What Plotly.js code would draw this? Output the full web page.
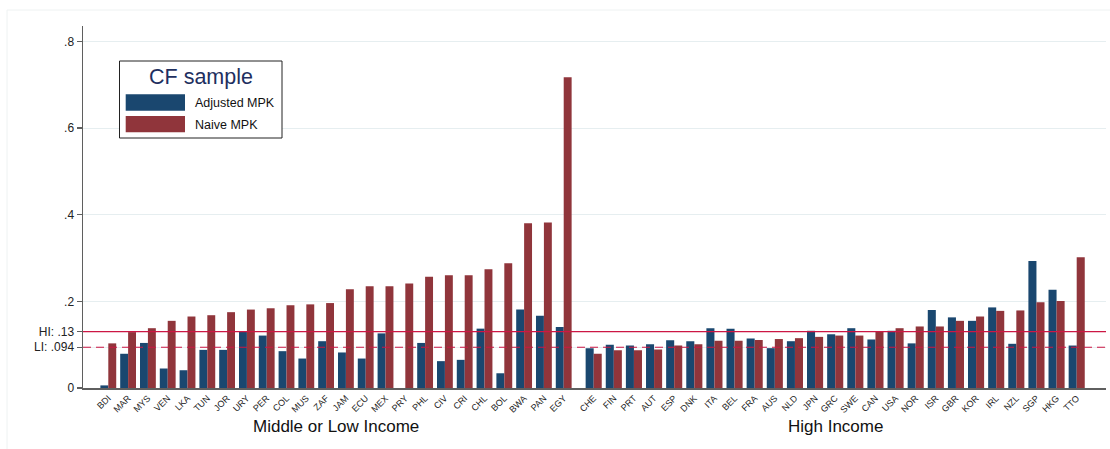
<!DOCTYPE html>
<html>
<head>
<meta charset="utf-8">
<script src="https://cdn.plot.ly/plotly-3.0.1.min.js"></script>
<style>
  html, body { margin: 0; padding: 0; background: #ffffff; }
  #chart { width: 1110px; height: 449px; }
</style>
</head>
<body>
<div id="chart"></div>
<script>
// Country groups
const leftCats = ['BDI','MAR','MYS','VEN','LKA','TUN','JOR','URY','PER','COL','MUS','ZAF',
                  'JAM','ECU','MEX','PRY','PHL','CIV','CRI','CHL','BOL','BWA','PAN','EGY'];
const rightCats = ['CHE','FIN','PRT','AUT','ESP','DNK','ITA','BEL','FRA','AUS','NLD','JPN',
                   'GRC','SWE','CAN','USA','NOR','ISR','GBR','KOR','IRL','NZL','SGP','HKG','TTO'];

// Adjusted MPK
const leftAdjusted = [0.006,0.079,0.104,0.045,0.041,0.088,0.088,0.131,0.121,0.085,0.068,0.108,
                      0.082,0.068,0.126,null,0.104,0.062,0.065,0.137,0.034,0.181,0.167,0.141];
const rightAdjusted = [0.092,0.100,0.098,0.101,0.110,0.108,0.138,0.137,0.114,0.092,0.108,0.132,
                       0.124,0.138,0.112,0.132,0.103,0.180,0.163,0.155,0.186,0.102,0.293,0.227,0.098];

// Naive MPK
const leftNaive = [0.103,0.129,0.138,0.155,0.165,0.168,0.175,0.181,0.184,0.191,0.193,0.196,
                   0.228,0.235,0.235,0.241,0.257,0.260,0.260,0.274,0.288,0.380,0.382,0.717];
const rightNaive = [0.079,0.087,0.087,0.089,0.098,0.101,0.109,0.109,0.111,0.113,0.115,0.118,
                    0.121,0.121,0.131,0.138,0.142,0.142,0.155,0.165,0.178,0.179,0.198,0.201,0.302];

// Group averages drawn as reference lines
const hiValue = 0.13;
const liValue = 0.094;

const groupTitles = ['Middle or Low Income', 'High Income'];
const seriesNames = ['Adjusted MPK', 'Naive MPK'];
const legendTitle = 'CF sample';

const yTickVals = [0, liValue, hiValue, 0.2, 0.4, 0.6, 0.8];
const yTickText = ['0', 'LI: .094', 'HI: .13', '.2', '.4', '.6', '.8'];

// Styling
const NAVY = '#1a476f';
const MAROON = '#90353b';
const REFLINE = '#cc1744';
const AXIS = '#5f5f5f';
const GRID = '#e6eef0';
const FONT = 'Liberation Sans, Arial, sans-serif';

// Page geometry (pixels)
const W = 1110, H = 449;
const M = { l: 83, r: 4, t: 26, b: 61 };
const plotW = W - M.l - M.r;
const plotH = H - M.t - M.b;
const px = x => (x - M.l) / plotW;
const py = y => (H - M.b - y) / plotH;
const split = px(578.7);

const traces = [
  { type: 'bar', name: seriesNames[0], x: leftCats, y: leftAdjusted, xaxis: 'x', yaxis: 'y',
    marker: { color: NAVY, line: { width: 0 } }, showlegend: false },
  { type: 'bar', name: seriesNames[1], x: leftCats, y: leftNaive, xaxis: 'x', yaxis: 'y',
    marker: { color: MAROON, line: { width: 0 } }, showlegend: false },
  { type: 'bar', name: seriesNames[0], x: rightCats, y: rightAdjusted, xaxis: 'x2', yaxis: 'y',
    marker: { color: NAVY, line: { width: 0 } }, showlegend: false },
  { type: 'bar', name: seriesNames[1], x: rightCats, y: rightNaive, xaxis: 'x2', yaxis: 'y',
    marker: { color: MAROON, line: { width: 0 } }, showlegend: false }
];

const xTickFont = { family: FONT, size: 9, color: '#222' };
const xCommon = {
  type: 'category', showgrid: false, zeroline: false,
  showline: true, linecolor: AXIS, linewidth: 1.5,
  ticks: '', tickangle: -45, tickfont: xTickFont, fixedrange: true
};

const shapes = [
  // reference lines
  { type: 'line', xref: 'paper', yref: 'y', x0: 0, x1: 1, y0: hiValue, y1: hiValue,
    line: { color: REFLINE, width: 1.1 } },
  { type: 'line', xref: 'paper', yref: 'y', x0: 0, x1: 1, y0: liValue, y1: liValue,
    line: { color: REFLINE, width: 1.1, dash: '8px,5px' } },
  // outer frame of the graph region
  { type: 'line', xref: 'paper', yref: 'paper', x0: px(7), x1: px(W + 5), y0: py(10), y1: py(10),
    line: { color: '#eef2f2', width: 1 } },
  { type: 'line', xref: 'paper', yref: 'paper', x0: px(7), x1: px(7), y0: py(10), y1: py(H + 5),
    line: { color: '#eef2f2', width: 1 } },
  // legend box and swatches
  { type: 'rect', xref: 'paper', yref: 'paper', x0: px(119.5), x1: px(282), y0: py(61), y1: py(138),
    fillcolor: '#ffffff', line: { color: '#222', width: 1 } },
  { type: 'rect', xref: 'paper', yref: 'paper', x0: px(125.7), x1: px(185), y0: py(94.3), y1: py(110.7),
    fillcolor: NAVY, line: { width: 0 } },
  { type: 'rect', xref: 'paper', yref: 'paper', x0: px(125.7), x1: px(185), y0: py(116), y1: py(132.3),
    fillcolor: MAROON, line: { width: 0 } }
];

const annotations = [
  { xref: 'x', yref: 'paper', x: (leftCats.length - 1) / 2, y: py(426), text: groupTitles[0],
    showarrow: false, xanchor: 'center', yanchor: 'middle',
    font: { family: FONT, size: 17, color: '#111' } },
  { xref: 'x2', yref: 'paper', x: (rightCats.length - 1) / 2, y: py(426), text: groupTitles[1],
    showarrow: false, xanchor: 'center', yanchor: 'middle',
    font: { family: FONT, size: 17, color: '#111' } },
  { xref: 'paper', yref: 'paper', x: px(200.7), y: py(77), text: legendTitle,
    showarrow: false, xanchor: 'center', yanchor: 'middle',
    font: { family: FONT, size: 21.5, color: '#1e2f5f' } },
  { xref: 'paper', yref: 'paper', x: px(193), y: py(102.5), text: seriesNames[0],
    showarrow: false, xanchor: 'left', yanchor: 'middle',
    font: { family: FONT, size: 12.5, color: '#111' } },
  { xref: 'paper', yref: 'paper', x: px(193), y: py(124.5), text: seriesNames[1],
    showarrow: false, xanchor: 'left', yanchor: 'middle',
    font: { family: FONT, size: 12.5, color: '#111' } }
];

const layout = {
  width: W, height: H,
  margin: M,
  paper_bgcolor: '#ffffff', plot_bgcolor: '#ffffff',
  font: { family: FONT },
  barmode: 'group', bargap: 0.2, bargroupgap: 0,
  showlegend: false,
  xaxis: Object.assign({}, xCommon, { domain: [0, split], range: [-1.278, 23.757], anchor: 'y' }),
  xaxis2: Object.assign({}, xCommon, { domain: [split, 1], range: [-0.745, 25.456], anchor: 'y' }),
  yaxis: {
    range: [0, plotH / 433.3], tickvals: yTickVals, ticktext: yTickText,
    showgrid: true, gridcolor: GRID, gridwidth: 1, zeroline: false,
    showline: true, linecolor: AXIS, linewidth: 1.5,
    ticks: 'outside', ticklen: 5, tickcolor: AXIS, tickwidth: 1.2,
    tickfont: { family: FONT, size: 12, color: '#222' }, fixedrange: true
  },
  shapes: shapes,
  annotations: annotations
};

Plotly.newPlot('chart', traces, layout, { staticPlot: true, displayModeBar: false });
</script>
</body>
</html>
